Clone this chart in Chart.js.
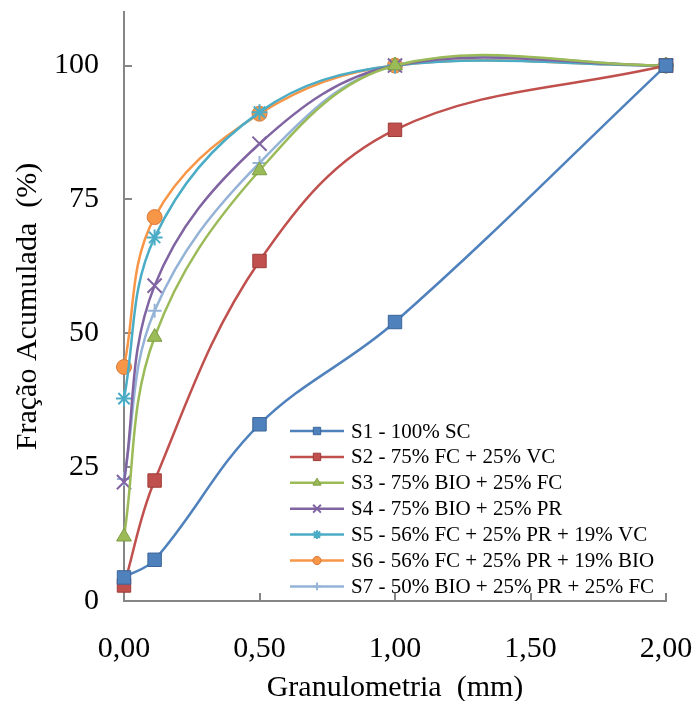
<!DOCTYPE html>
<html>
<head>
<meta charset="utf-8">
<script src="https://cdn.jsdelivr.net/npm/chart.js@4.4.1/dist/chart.umd.min.js"></script>
<style>
  html, body { margin: 0; padding: 0; background: #fff; }
  #wrap { width: 699px; height: 701px; }
</style>
</head>
<body>
<div id="wrap"><canvas id="grafico" width="699" height="701"></canvas></div>
<script>
// Dados
const granulometria = [0, 0.113, 0.5, 1.0, 2.0];
const s1 = [4.4, 7.7, 33.0, 52.1, 100];
const s2 = [2.9, 22.5, 63.5, 88.0, 100];
const s3 = [12.0, 49.3, 80.4, 100, 100];
const s4 = [22.2, 58.9, 85.4, 100, 100];
const s5 = [37.8, 67.9, 91.3, 100, 100];
const s6 = [43.7, 71.7, 91.0, 100, 100];
const s7 = [22.8, 54.2, 81.8, 100, 100];

const nomes = [
  "S1 - 100% SC",
  "S2 - 75% FC + 25% VC",
  "S3 - 75% BIO + 25% FC",
  "S4 - 75% BIO + 25% PR",
  "S5 - 56% FC + 25% PR + 19% VC",
  "S6 - 56% FC + 25% PR + 19% BIO",
  "S7 - 50% BIO + 25% PR + 25% FC",
];
const series = [s1, s2, s3, s4, s5, s6, s7];

const xTicks = [0, 0.5, 1.0, 1.5, 2.0];
const yTicks = [0, 25, 50, 75, 100];

// Estilos
const cores = ["#4F81BD", "#C0504D", "#9BBB59", "#8064A2", "#4BACC6", "#F79646", "#95B3D7"];
const bordas = ["#3A6597", "#9E3B38", "#7E9C43", "#8064A2", "#4BACC6", "#D9793A", "#95B3D7"];
const marcadores = ["rect", "rect", "triangle", "crossRot", "star", "circle", "cross"];
const raios = [9.5, 9.5, 8.5, 10, 8, 7.5, 7];
const espessuras = [1, 1, 1, 2, 2, 1, 2];

const fonte = "'Liberation Serif', 'Times New Roman', serif";
const cinza = "#868686";

const datasets = series.map((s, i) => ({
  label: nomes[i],
  data: s.map((v, k) => ({ x: granulometria[k], y: v })),
  borderColor: cores[i],
  backgroundColor: cores[i],
  borderWidth: 2.5,
  tension: 0.37,
  pointStyle: marcadores[i],
  pointRadius: raios[i],
  pointHoverRadius: raios[i],
  pointBackgroundColor: cores[i],
  pointBorderColor: bordas[i],
  pointBorderWidth: espessuras[i],
  clip: false,
}));

// Marcas de escala para dentro
const marcasInternas = {
  id: "marcasInternas",
  beforeDatasetsDraw(chart) {
    const { ctx, scales: { x, y }, chartArea } = chart;
    ctx.save();
    ctx.strokeStyle = cinza;
    ctx.lineWidth = 2;
    ctx.beginPath();
    xTicks.forEach((v) => {
      if (v === 0) return;
      const px = Math.round(x.getPixelForValue(v));
      ctx.moveTo(px, chartArea.bottom);
      ctx.lineTo(px, chartArea.bottom - 8);
    });
    yTicks.forEach((v) => {
      if (v === 0) return;
      const py = Math.round(y.getPixelForValue(v));
      ctx.moveTo(chartArea.left, py);
      ctx.lineTo(chartArea.left + 8, py);
    });
    ctx.stroke();
    ctx.restore();
  },
};

// Legenda dentro da área do gráfico
const legendaInterna = {
  id: "legendaInterna",
  afterDraw(chart) {
    const ctx = chart.ctx;
    const x0 = 290, x1 = 344, xt = 351;
    const yTopo = 431, passo = 25.9;
    ctx.save();
    ctx.font = "21px " + fonte;
    ctx.textBaseline = "middle";
    ctx.textAlign = "left";
    chart.data.datasets.forEach((ds, i) => {
      const yy = yTopo + i * passo;
      ctx.strokeStyle = ds.borderColor;
      ctx.lineWidth = 2.5;
      ctx.beginPath();
      ctx.moveTo(x0, yy);
      ctx.lineTo(x1, yy);
      ctx.stroke();
      ctx.fillStyle = ds.pointBackgroundColor;
      ctx.strokeStyle = ds.pointBorderColor;
      ctx.lineWidth = ds.pointBorderWidth;
      Chart.helpers.drawPoint(ctx, {
        pointStyle: ds.pointStyle,
        radius: ds.pointRadius * 0.55,
        rotation: 0,
        borderWidth: ds.pointBorderWidth,
      }, (x0 + x1) / 2, yy);
      ctx.fillStyle = "#000";
      ctx.fillText(ds.label, xt, yy + 1);
    });
    ctx.restore();
  },
};

const ctx = document.getElementById("grafico").getContext("2d");
new Chart(ctx, {
  type: "line",
  data: { datasets },
  plugins: [marcasInternas, legendaInterna],
  options: {
    responsive: false,
    animation: false,
    devicePixelRatio: 1,
    layout: { padding: { top: 12, right: 33, left: 0, bottom: 0 } },
    plugins: {
      legend: { display: false },
      tooltip: { enabled: false },
    },
    scales: {
      x: {
        type: "linear",
        min: 0,
        max: 2,
        afterBuildTicks: (s) => { s.ticks = xTicks.map((v) => ({ value: v })); },
        afterFit: (s) => {
          s.height = 100;
          s.paddingLeft = 0;
          s.paddingRight = 0;
        },
        grid: { display: false, drawTicks: false },
        border: { display: true, color: cinza, width: 2 },
        ticks: {
          color: "#000",
          padding: 30,
          font: { family: fonte, size: 30 },
          callback: (v) => Number(v).toFixed(2).replace(".", ","),
        },
        title: {
          display: true,
          text: "Granulometria  (mm)",
          color: "#000",
          font: { family: fonte, size: 30, lineHeight: 0.85 },
          padding: { top: 0, bottom: 0 },
        },
      },
      y: {
        min: 0,
        max: 110,
        afterBuildTicks: (s) => { s.ticks = yTicks.map((v) => ({ value: v })); },
        afterFit: (s) => {
          s.width = 124;
          s.paddingTop = 0;
          s.paddingBottom = 0;
        },
        grid: { display: false, drawTicks: false },
        border: { display: true, color: cinza, width: 2 },
        ticks: {
          color: "#000",
          padding: 25,
          font: { family: fonte, size: 30 },
        },
        title: {
          display: true,
          text: "Fração Acumulada  (%)",
          color: "#000",
          font: { family: fonte, size: 30, lineHeight: 1 },
          padding: { top: 13, bottom: 0 },
        },
      },
    },
  },
});
</script>
</body>
</html>
